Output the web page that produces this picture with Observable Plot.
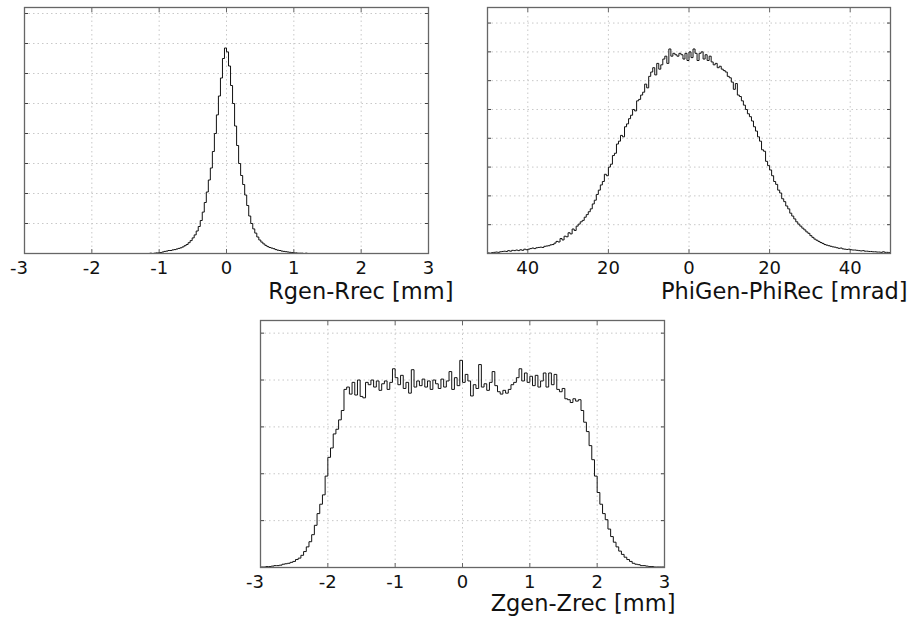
<!DOCTYPE html>
<html><head><meta charset="utf-8">
<script src="https://cdn.jsdelivr.net/npm/d3@7"></script>
<script src="https://cdn.jsdelivr.net/npm/@observablehq/plot@0.6"></script>
<style>
body{margin:0;background:#fff;font-family:"DejaVu Sans",sans-serif;}
#wrap{position:relative;width:911px;height:621px;overflow:hidden;}
.panel{position:absolute;}
</style></head><body><div id="wrap"></div>
<script>
// ---- Rgen-Rrec histogram (bins of 0.03 mm starting at -1.2) ----
const rTitle = "Rgen-Rrec [mm]";
const rDomain = [-3, 3];
const rTicks = [-3, -2, -1, 0, 1, 2, 3];
const rBinStart = -1.2, rBinWidth = 0.03;
const rValues = [
  0,0,0.01,0,0.01,0.02,0.02,0.03,0.05,0.07,
  0.08,0.1,0.1,0.12,0.13,0.15,0.17,0.19,0.22,0.26,
  0.3,0.36,0.43,0.52,0.62,0.75,0.9,1.1,1.38,1.7,
  2.05,2.45,2.85,3.4,4.0,4.62,5.25,5.85,6.5,6.85,
  6.72,6.25,5.6,5.0,4.25,3.6,3.0,2.6,2.3,1.95,
  1.6,1.25,1.0,0.82,0.68,0.55,0.45,0.38,0.32,0.27,
  0.23,0.2,0.18,0.16,0.13,0.11,0.1,0.08,0.07,0.06,
  0.05,0.04,0.03,0.02,0.02,0.01,0.01,0.01,0,0.01
];
const rYMax = 8.2;
const rGrid = [1,2,3,4,5,6,7,8];

// ---- PhiGen-PhiRec histogram (bins of 0.5 mrad starting at -50) ----
const pTitle = "PhiGen-PhiRec [mrad]";
const pDomain = [-50, 50];
const pTicks = [-40, -20, 0, 20, 40];
const pBinStart = -50, pBinWidth = 0.5;
const pValues = [
  0.02,0.01,0.03,0.04,0.05,0.04,0.06,0.07,0.08,0.07,
  0.1,0.08,0.11,0.1,0.12,0.1,0.13,0.11,0.15,0.13,
  0.15,0.17,0.19,0.17,0.2,0.21,0.22,0.21,0.25,0.26,
  0.27,0.3,0.31,0.36,0.42,0.4,0.52,0.47,0.6,0.58,
  0.72,0.68,0.85,0.8,0.95,1.02,1.1,1.15,1.26,1.35,
  1.45,1.55,1.72,1.85,2.05,2.2,2.38,2.5,2.75,2.7,
  3.0,3.1,3.4,3.48,3.8,3.9,4.1,4.05,4.4,4.5,
  4.68,4.8,5.0,4.95,5.3,5.35,5.5,5.6,5.88,5.75,
  6.15,6.3,6.45,6.2,6.6,6.4,6.55,6.75,6.85,6.6,
  7.1,6.85,6.95,6.9,6.85,6.95,6.9,6.75,6.95,6.7,
  7.0,6.8,7.1,6.95,6.7,6.95,7.0,6.75,6.9,6.7,
  6.85,6.65,6.55,6.6,6.45,6.5,6.4,6.35,6.3,6.15,
  6.1,5.95,5.7,5.9,5.5,5.45,5.3,5.15,5.0,4.85,
  4.75,4.6,4.4,4.25,4.05,3.9,3.6,3.55,3.2,3.05,
  2.9,2.7,2.5,2.4,2.2,2.1,1.9,1.8,1.65,1.55,
  1.4,1.3,1.2,1.1,1.02,0.95,0.88,0.82,0.75,0.7,
  0.62,0.56,0.5,0.46,0.42,0.38,0.35,0.31,0.29,0.27,
  0.25,0.23,0.22,0.2,0.18,0.19,0.16,0.15,0.14,0.15,
  0.13,0.12,0.12,0.11,0.1,0.09,0.1,0.08,0.08,0.07,
  0.07,0.06,0.06,0.05,0.05,0.04,0.06,0.04,0.04,0.03
];
const pYMax = 8.54;
const pGrid = [1,2,3,4,5,6,7,8];

// ---- Zgen-Zrec histogram (bins of 0.04 mm starting at -3) ----
const zTitle = "Zgen-Zrec [mm]";
const zDomain = [-3, 3];
const zTicks = [-3, -2, -1, 0, 1, 2, 3];
const zBinStart = -3, zBinWidth = 0.04;
const zValues = [
  0.01,0.01,0.02,0.02,0.03,0.04,0.04,0.05,0.07,0.08,
  0.09,0.11,0.13,0.17,0.2,0.26,0.34,0.44,0.55,0.7,
  0.9,1.15,1.35,1.55,1.95,2.35,2.55,2.85,2.95,3.15,
  3.35,3.8,3.85,3.7,3.95,3.68,4.0,3.65,3.62,3.95,
  3.9,4.0,3.85,3.98,3.78,3.92,3.98,3.8,3.95,4.24,
  4.05,3.9,4.1,3.82,3.95,3.72,4.22,3.85,3.98,3.88,
  4.02,3.85,3.98,3.8,4.0,3.92,3.82,4.02,3.85,3.98,
  4.18,3.8,4.05,3.88,4.42,3.95,4.12,3.98,3.66,3.9,
  3.82,4.33,3.85,3.92,3.78,3.95,4.18,3.88,3.75,3.7,
  3.78,3.72,3.8,3.9,3.95,4.05,4.24,3.98,4.15,3.95,
  4.08,3.88,4.1,3.85,3.98,4.15,3.85,4.15,3.9,4.12,
  3.8,3.75,3.82,3.6,3.58,3.52,3.6,3.55,3.58,3.35,
  3.1,2.9,2.6,2.3,1.95,1.6,1.35,1.15,1.02,0.82,
  0.66,0.54,0.44,0.35,0.28,0.22,0.17,0.13,0.09,0.07,
  0.06,0.04,0.04,0.03,0.02,0.02,0.01,0.01,0.01,0.01
];
const zYMax = 5.27;
const zGrid = [1,2,3,4,5];

function steps(start, w, vals, domain) {
  const pts = [{x: domain[0], y: 0}];
  vals.forEach((v, i) => pts.push({x: start + i * w, y: v}));
  const end = start + vals.length * w;
  pts.push({x: end, y: 0});
  pts.push({x: domain[1], y: 0});
  return pts;
}

function panel(o) {
  const gridStyle = {stroke: "#c8c8c8", strokeOpacity: 1, strokeWidth: 1, strokeDasharray: "1.5,3"};
  const labelOpts = {anchor: "bottom", tickSize: 0, tickPadding: 7.5, tickFormat: o.fmt, label: null, fontSize: 18, fill: "#111"};
  const edgeTicks = o.ticks.filter(t => t === o.domain[0]);
  const innerTicks = o.ticks.filter(t => t !== o.domain[0]);
  const chart = Plot.plot({
    width: o.width, height: o.height,
    marginLeft: o.mL, marginRight: o.mR, marginTop: o.mT, marginBottom: o.mB,
    x: {domain: o.domain},
    y: {domain: [0, o.yMax]},
    style: {fontFamily: "DejaVu Sans, sans-serif", fontSize: "18px", color: "#111", background: "transparent", overflow: "visible"},
    marks: [
      Plot.gridX(o.ticks.filter(t => t > o.domain[0] && t < o.domain[1]), gridStyle),
      Plot.gridY(o.grid, gridStyle),
      Plot.axisX(innerTicks, labelOpts),
      Plot.axisX(edgeTicks, {...labelOpts, dx: -5.5}),
      Plot.axisX(o.ticks, {anchor: "bottom", tickSize: -4, tickFormat: () => "", label: null, stroke: "#666"}),
      Plot.axisX(o.ticks, {anchor: "top", tickSize: -4, tickFormat: () => "", label: null, stroke: "#666"}),
      Plot.axisY(o.grid, {anchor: "left", tickSize: -4, tickFormat: () => "", label: null, stroke: "#444"}),
      Plot.axisY(o.grid, {anchor: "right", tickSize: -4, tickFormat: () => "", label: null, stroke: "#444"}),
      Plot.line(o.data, {x: "x", y: "y", curve: "step-after", stroke: "#111", strokeWidth: 1}),
      Plot.frame({stroke: "#666", strokeWidth: 1.3}),
      Plot.text([o.title], {frameAnchor: "bottom-right", text: d => d, textAnchor: "end", lineAnchor: "middle", dx: o.tdx, dy: o.tdy, fontSize: 22.5, fill: "#111"})
    ]
  });
  const div = document.createElement("div");
  div.className = "panel";
  div.style.left = o.left + "px";
  div.style.top = o.top + "px";
  div.appendChild(chart);
  document.getElementById("wrap").appendChild(div);
}

panel({left: 0, top: 0, width: 460, height: 300, mL: 24, mR: 32, mT: 7, mB: 47,
  domain: rDomain, ticks: rTicks, grid: rGrid, yMax: rYMax, fmt: d => String(d),
  data: steps(rBinStart, rBinWidth, rValues, rDomain), title: rTitle, tdx: 25, tdy: 38.5});

panel({left: 460, top: 0, width: 451, height: 300, mL: 27, mR: 21, mT: 7, mB: 47,
  domain: pDomain, ticks: pTicks, grid: pGrid, yMax: pYMax, fmt: d => String(Math.abs(d)),
  data: steps(pBinStart, pBinWidth, pValues, pDomain), title: pTitle, tdx: 17, tdy: 38.5});

panel({left: 230, top: 310, width: 460, height: 311, mL: 30, mR: 26, mT: 10, mB: 54,
  domain: zDomain, ticks: zTicks, grid: zGrid, yMax: zYMax, fmt: d => String(d),
  data: steps(zBinStart, zBinWidth, zValues, zDomain), title: zTitle, tdx: 11, tdy: 36.5});
</script></body></html>
